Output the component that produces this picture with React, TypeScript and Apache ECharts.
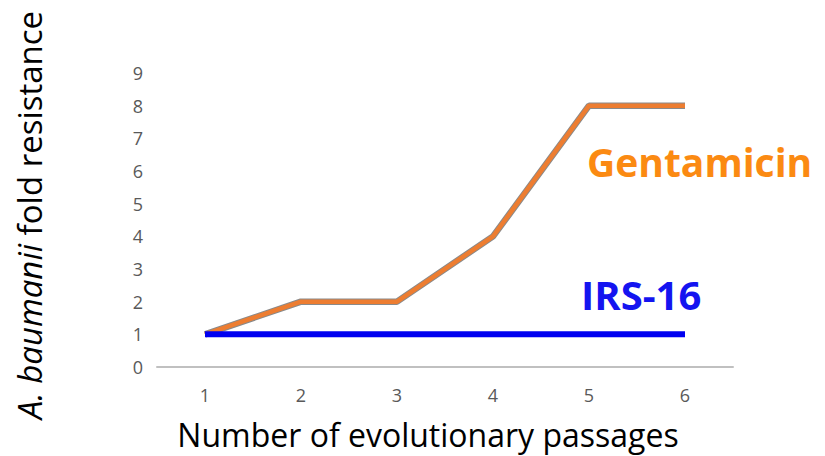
import React, { useEffect, useRef } from "react";
import * as echarts from "echarts";

const passages = ["1", "2", "3", "4", "5", "6"];
const gentamicin = [1, 2, 2, 4, 8, 8];
const irs16 = [1, 1, 1, 1, 1, 1];

export default function App() {
  const ref = useRef<HTMLDivElement>(null);
  useEffect(() => {
    const chart = echarts.init(ref.current!, null, { renderer: "svg" });
    chart.setOption({
      animation: false,
      backgroundColor: "#ffffff",
      grid: { left: 157, right: 92, top: 73, bottom: 89, containLabel: false, outerBoundsMode: "none" },
      xAxis: {
        type: "category",
        data: passages,
        boundaryGap: true,
        axisLine: { lineStyle: { color: "#c0c0c0", width: 2 } },
        axisTick: { show: false },
        axisLabel: { color: "#595959", fontSize: 18, margin: 19, fontFamily: "Open Sans" },
      },
      yAxis: {
        type: "value",
        min: 0,
        max: 9,
        interval: 1,
        splitLine: { show: false },
        axisLine: { show: false },
        axisTick: { show: false },
        axisLabel: { color: "#595959", fontSize: 18, margin: 14, fontFamily: "Open Sans" },
      },
      series: [
        {
          type: "line",
          data: gentamicin,
          symbol: "none",
          lineStyle: { color: "#8a8a8a", width: 6.5 },
          z: 2,
          silent: true,
        },
        {
          type: "line",
          data: gentamicin,
          symbol: "none",
          lineStyle: { color: "#ED7D31", width: 4.5 },
          z: 3,
          silent: true,
        },
        {
          type: "line",
          data: irs16,
          symbol: "none",
          lineStyle: { color: "#0000F0", width: 6 },
          z: 4,
          silent: true,
        },
      ],
      graphic: [
        {
          type: "text",
          x: 428,
          y: 434,
          style: {
            text: "Number of evolutionary passages",
            fill: "#000000",
            fontSize: 32,
            lineHeight: 36,
            fontFamily: "Open Sans",
            align: "center",
            verticalAlign: "middle",
          },
        },
        {
          type: "text",
          x: 29,
          y: 215,
          rotation: Math.PI / 2,
          style: {
            text: "{i|A. baumanii} fold resistance",
            fill: "#000000",
            fontSize: 33,
            fontFamily: "Open Sans",
            align: "center",
            verticalAlign: "middle",
            rich: {
              i: { fontStyle: "italic", fontSize: 33, fontFamily: "Open Sans", fill: "#000000" },
            },
          },
        },
        {
          type: "text",
          left: 587,
          top: 142,
          style: {
            text: "Gentamicin",
            fill: "#FB8A12",
            fontSize: 39,
            fontWeight: "bold",
            fontFamily: "Open Sans",
          },
        },
        {
          type: "text",
          left: 581,
          top: 274,
          style: {
            text: "IRS-16",
            fill: "#1414F0",
            fontSize: 40,
            fontWeight: "bold",
            fontFamily: "Open Sans",
          },
        },
      ],
    });
    return () => chart.dispose();
  }, []);
  return (
    <div style={{ position: "fixed", left: 0, top: 0 }}>
      <div ref={ref} style={{ width: 825, height: 456 }} />
    </div>
  );
}
